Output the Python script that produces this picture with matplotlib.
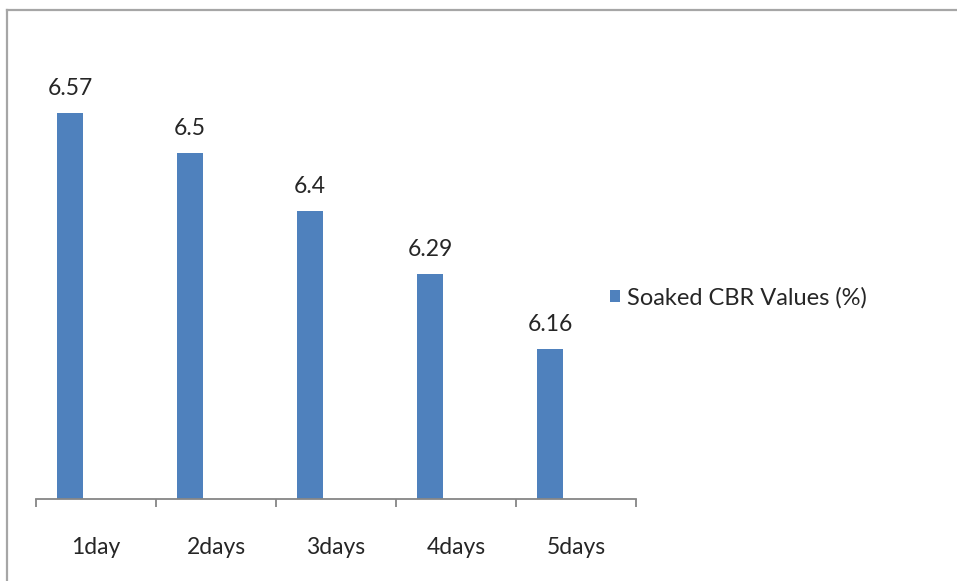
import matplotlib
matplotlib.use("Agg")
import matplotlib.pyplot as plt
import numpy as np
from matplotlib.patches import Patch
from matplotlib.lines import Line2D

categories = ["1day", "2days", "3days", "4days", "5days"]
cbr_values = [6.57, 6.5, 6.4, 6.29, 6.16]
series_name = "Soaked CBR Values (%)"

plt.rcParams["font.family"] = ["Lato", "DejaVu Sans"]

W, H = 957, 581
fig = plt.figure(figsize=(W / 100, H / 100), dpi=100)
fig.patch.set_facecolor("white")

# chart area outline (top and left edges visible)
border_color = "#a6a6a6"
fig.add_artist(Line2D([7 / W, 7 / W], [-0.01, 1 - 10 / H], transform=fig.transFigure,
                      color=border_color, lw=1.6))
fig.add_artist(Line2D([7 / W, 1.01], [1 - 10 / H, 1 - 10 / H], transform=fig.transFigure,
                      color=border_color, lw=1.6))

ax = fig.add_axes([36 / W, (H - 499) / H, 600 / W, 0.793])

bar_color = "#4f81bd"
x = np.arange(len(categories))
bar_w = 0.217
# bars sit left of the category centre; the value axis starts at 5.9
ax.bar(x - bar_w, cbr_values, width=bar_w, color=bar_color, zorder=2)
ax.set_ylim(5.9, 6.7)
ax.set_xlim(-0.5, len(categories) - 0.5)

for xi, v in zip(x - bar_w, cbr_values):
    ax.annotate(f"{v:g}", xy=(xi, v), xytext=(0, 25), textcoords="offset pixels",
                ha="center", va="center", fontsize=16.5, color="#262626")

for s in ["top", "right", "left"]:
    ax.spines[s].set_visible(False)
ax.spines["bottom"].set_color("#868686")
ax.spines["bottom"].set_linewidth(1.3)
ax.set_yticks([])

ax.set_xticks(x)
ax.set_xticklabels(categories, fontsize=16.5, color="#262626")
ax.tick_params(axis="x", which="major", length=0, pad=27)
ax.set_xticks(np.arange(-0.5, len(categories)), minor=True)
ax.tick_params(axis="x", which="minor", length=6, width=1.3, color="#868686",
               direction="out")

handle = Patch(facecolor=bar_color, edgecolor="none")
fig.legend([handle], [series_name], loc="center left",
           bbox_to_anchor=(610 / W, (H - 298) / H), bbox_transform=fig.transFigure,
           frameon=False, fontsize=17, handlelength=0.42, handleheight=0.42,
           handletextpad=0.3, borderpad=0, borderaxespad=0, labelcolor="#262626")

fig.savefig("out.png", dpi=100, facecolor="white")
